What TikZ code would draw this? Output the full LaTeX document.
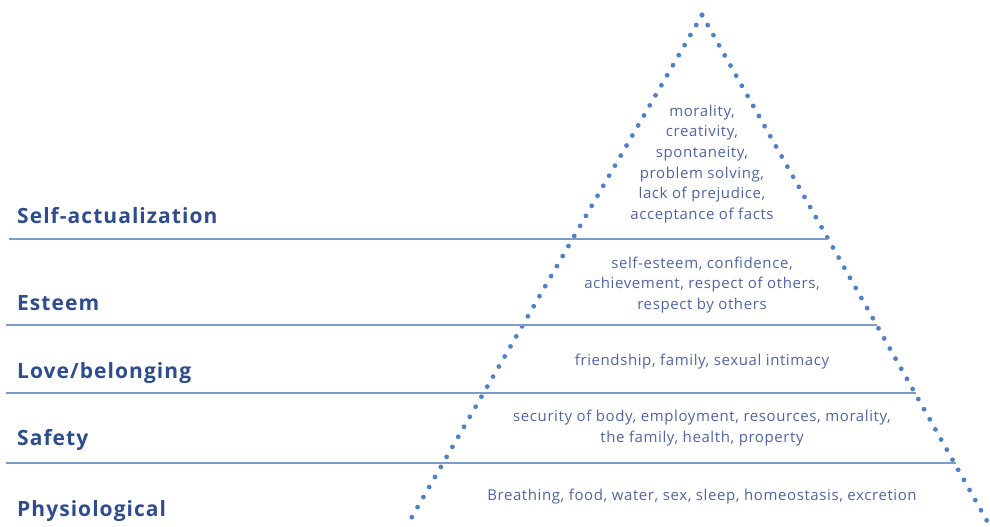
\documentclass[tikz,border=0pt]{standalone}
\usepackage{fontspec}
\setmainfont{Open Sans}
\newfontfamily\descfont[LetterSpace=4]{Open Sans}
\newfontfamily\lvlfont[LetterSpace=5]{Open Sans}
\definecolor{dotblue}{HTML}{4F80C8}
\definecolor{lineblue}{HTML}{7C9BCD}
\definecolor{labelblue}{HTML}{2E4C8E}
\definecolor{descblue}{HTML}{5064A4}
\begin{document}
\begin{tikzpicture}[x=1pt,y=-1pt,
  lvl/.style={anchor=base west,font=\lvlfont\fontsize{21}{24}\selectfont\bfseries,text=labelblue,inner sep=0pt},
  desc/.style={align=center,font=\descfont\fontsize{15}{20.6}\selectfont,text=descblue,inner sep=0pt},
  sep/.style={draw=lineblue,line width=1.1pt},
  dots/.style={draw=dotblue,line width=4.8pt,line cap=round,dash pattern=on 0pt off 11.6pt}]
\useasboundingbox (0,0) rectangle (990,527);
% pyramid sides
\coordinate (apex) at (702,15);
\coordinate (bl) at (409,522);
\coordinate (br) at (987,521);
\draw[dots] (apex) -- (bl);
\draw[dots] (apex) -- (br);
% separators
\coordinate (s1a) at (9,239);   \coordinate (s1b) at (828,239);
\coordinate (s2a) at (6,325);   \coordinate (s2b) at (877,325);
\coordinate (s3a) at (6,393);   \coordinate (s3b) at (916,393);
\coordinate (s4a) at (6,463);   \coordinate (s4b) at (956,463);
\draw[sep] (s1a) -- (s1b);
\draw[sep] (s2a) -- (s2b);
\draw[sep] (s3a) -- (s3b);
\draw[sep] (s4a) -- (s4b);
% level labels
\node[lvl] (l5) at (17,223) {Self-actualization};
\node[lvl] (l4) at (17,310) {Esteem};
\node[lvl] (l3) at (17,378) {Love/belonging};
\node[lvl] (l2) at (17,445) {Safety};
\node[lvl] (l1) at (17,516) {Physiological};
% descriptions
\node[desc] (d5) at (702,164) {morality,\\creativity,\\spontaneity,\\problem solving,\\lack of prejudice,\\acceptance of facts};
\node[desc] (d4) at (702,285) {self-esteem, confidence,\\achievement, respect of others,\\respect by others};
\node[desc] (d3) at (702,362) {friendship, family, sexual intimacy};
\node[desc] (d2) at (702,428) {security of body, employment, resources, morality,\\the family, health, property};
\node[desc] (d1) at (702,497) {Breathing, food, water, sex, sleep, homeostasis, excretion};
\end{tikzpicture}
\end{document}
